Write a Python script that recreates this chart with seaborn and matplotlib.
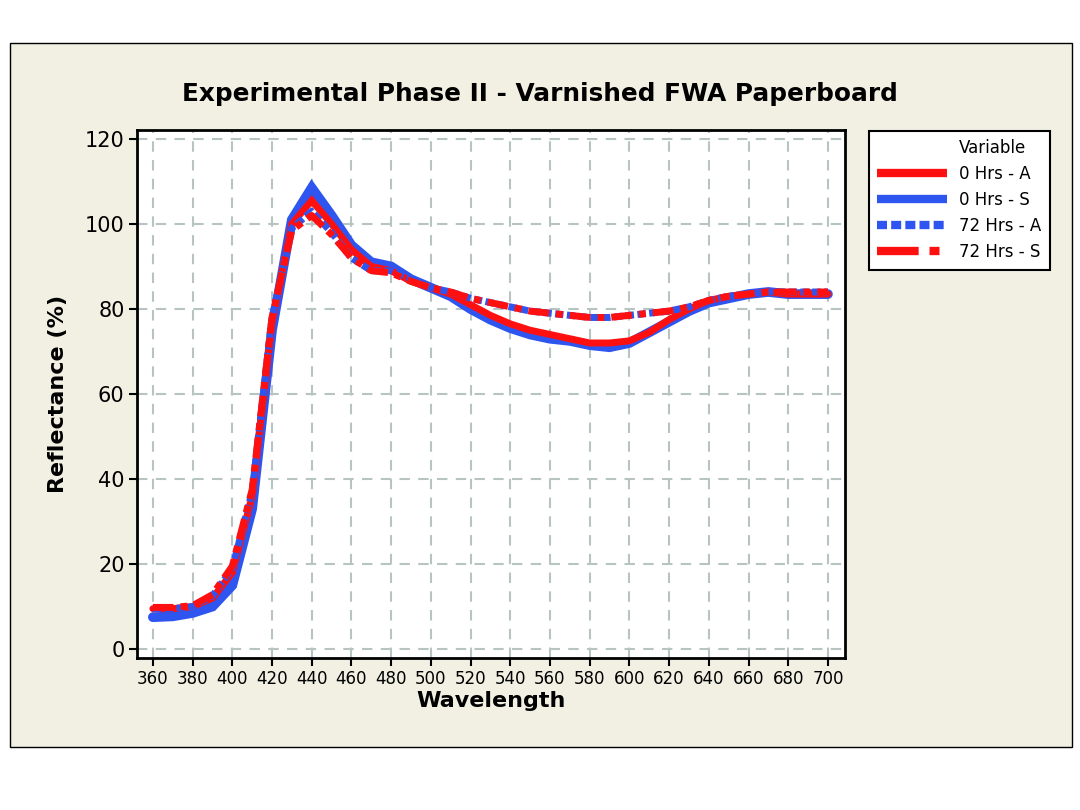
import numpy as np
import pandas as pd
import matplotlib
matplotlib.use("Agg")
import matplotlib.pyplot as plt
import seaborn as sns
from matplotlib.patches import Rectangle
from matplotlib.lines import Line2D

wavelength = list(range(360, 701, 10))
hrs0_A = [9.5, 9.5, 10, 12, 18, 36, 77, 100, 105.5, 100, 94, 90, 89, 86.5, 85, 83.5, 81, 78.5,
          76.5, 75, 74, 73, 72, 72, 72.5, 74.5, 77.5, 80, 82, 83, 83.5, 84, 83.5, 83.5, 83.5]
hrs0_S = [7.5, 7.7, 8.5, 10, 15, 33, 75, 101, 108.5, 102, 95, 91, 90, 87, 85, 83, 80, 77.5,
          75.5, 74, 73, 72.5, 71.5, 71, 72, 74.5, 77, 79.5, 81.5, 82.5, 83.5, 84, 83.5, 83.5, 83.5]
hrs72_A = [9.5, 9.5, 10, 12.5, 19, 37, 78, 99, 103, 98, 92, 89, 89, 87, 85, 84, 82.5, 81.5,
           80.5, 79.5, 79, 78.5, 78, 78, 78.5, 79, 79.5, 80.5, 82, 83, 83.5, 84, 84, 84, 84]
hrs72_S = [9.8, 9.8, 10.2, 12.8, 19.5, 37.5, 78, 98.5, 102, 97.5, 92, 89, 88.5, 86.5, 85, 84, 82.5, 81.5,
           80.5, 79.5, 79, 78.5, 78, 78, 78.5, 79, 79.5, 80.5, 82, 83, 83.5, 84, 84, 84, 84]
series_names = ["0 Hrs - A", "0 Hrs - S", "72 Hrs - A", "72 Hrs - S"]
x_ticks = list(range(360, 701, 20))
y_ticks = [0, 20, 40, 60, 80, 100, 120]

df = pd.DataFrame({
    "Wavelength": wavelength * 4,
    "Reflectance": hrs0_A + hrs0_S + hrs72_A + hrs72_S,
    "Variable": sum([[n] * len(wavelength) for n in series_names], []),
})

sns.set_theme(style="white")
plt.rcParams['font.family'] = ['DejaVu Sans']
plt.rcParams['text.color'] = 'black'
plt.rcParams['axes.labelcolor'] = 'black'
plt.rcParams['xtick.color'] = 'black'
plt.rcParams['ytick.color'] = 'black'

fig = plt.figure(figsize=(10.8, 8.1), dpi=100)
fig.patch.set_facecolor("white")
bg = Rectangle((10 / 1080, 1 - 747 / 810), 1062 / 1080, 704 / 810, transform=fig.transFigure,
               facecolor="#F1F0E3", edgecolor="black", linewidth=1.0, zorder=-10)
fig.patches.append(bg)

ax = fig.add_axes([137 / 1080, 1 - 658 / 810, 708 / 1080, 528 / 810])
ax.set_zorder(1)
ax.set_facecolor("white")

red = "#FF1010"
blue = "#2F55F0"
styles = {
    "0 Hrs - S": dict(color=blue, lw=7.0, ls="-", z=2),
    "0 Hrs - A": dict(color=red, lw=5.0, ls="-", z=3),
    "72 Hrs - A": dict(color=blue, lw=5.0, ls=(0, (1.2, 0.5)), z=4),
    "72 Hrs - S": dict(color=red, lw=5.0, ls=(0, (3.0, 1.0, 1.0, 1.0)), z=5),
}
for name in ["0 Hrs - S", "0 Hrs - A", "72 Hrs - A", "72 Hrs - S"]:
    s = styles[name]
    sub = df[df["Variable"] == name]
    sns.lineplot(data=sub, x="Wavelength", y="Reflectance", ax=ax, color=s["color"],
                 linewidth=s["lw"], linestyle=s["ls"], zorder=s["z"], legend=False,
                 solid_joinstyle="miter", dash_capstyle="butt")

ax.set_xlim(352, 708.6)
ax.set_ylim(-2.1, 122.1)
ax.set_xticks(x_ticks)
ax.set_xticklabels([str(v) for v in x_ticks], fontsize=12)
ax.set_yticks(y_ticks)
ax.set_yticklabels([str(v) for v in y_ticks], fontsize=15)
for v in x_ticks:
    ax.axvline(v, color="#B8C4C2", lw=1.5, ls=(0, (5, 4)), zorder=1)
for v in y_ticks:
    ax.axhline(v, color="#B8C4C2", lw=1.5, ls=(0, (5, 4)), zorder=1)
ax.tick_params(axis="both", direction="out", length=6, width=1.5, color="black", pad=3,
               bottom=True, left=True)
for sp in ax.spines.values():
    sp.set_color("black")
    sp.set_linewidth(2.0)
ax.set_xlabel("Wavelength", fontsize=16, fontweight="bold", labelpad=2)
ax.set_ylabel("Reflectance (%)", fontsize=16, fontweight="bold", labelpad=12)

fig.text(540 / 1080, 1 - 94 / 810, "Experimental Phase II - Varnished FWA Paperboard",
         ha="center", va="center", fontsize=17.8, fontweight="bold", color="black")

handles = [Line2D([], [], color="none", lw=0),
           Line2D([], [], color=red, lw=6, ls="-", solid_capstyle="butt"),
           Line2D([], [], color=blue, lw=6, ls="-", solid_capstyle="butt"),
           Line2D([], [], color=blue, lw=6, ls=(0, (1.2, 0.5)), dash_capstyle="butt"),
           Line2D([], [], color=red, lw=6, ls=(0, (5.0, 1.3, 1.2, 1.3)), dash_capstyle="butt")]
leg = fig.legend(handles, ["Variable"] + series_names, loc="upper left",
                 bbox_to_anchor=(869 / 1080, 1 - 131 / 810), fontsize=12,
                 frameon=True, fancybox=False, handlelength=4.2, borderpad=0.5,
                 labelspacing=0.48, handletextpad=0.7, borderaxespad=0)
leg.get_frame().set_edgecolor("black")
leg.get_frame().set_linewidth(1.5)
leg.get_frame().set_facecolor("white")
leg.get_frame().set_alpha(1)

fig.savefig("out.png", dpi=100, facecolor="white")
